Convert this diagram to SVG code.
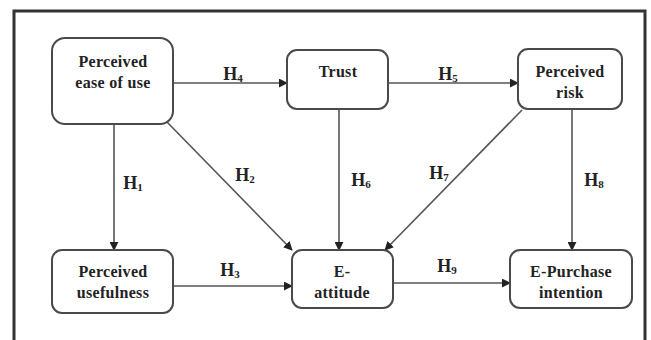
<svg xmlns="http://www.w3.org/2000/svg" width="651" height="340" viewBox="0 0 651 340">
<defs>
<style>
.node rect{fill:#fff;stroke:#4a4a4a;stroke-width:2}
.node text{font-family:"Liberation Serif","Times New Roman",serif;font-weight:bold;font-size:16px;letter-spacing:0.3px;fill:#222;text-anchor:middle}
.conn line{stroke:#555;stroke-width:1.6}
.lbl{font-family:"Liberation Serif","Times New Roman",serif;font-weight:bold;font-size:18px;fill:#222;text-anchor:middle}
.sub{font-size:11px}
</style>
<marker id="ah" viewBox="0 0 10 10" refX="9" refY="5" markerWidth="9" markerHeight="9" markerUnits="userSpaceOnUse" orient="auto">
<path d="M0,0 L10,5 L0,10 z" fill="#222"/>
</marker>
</defs>
<rect width="651" height="340" fill="#fff"/>
<path d="M14,340 V11 H645 V340" fill="none" stroke="#333" stroke-width="3"/>
<g class="conn">
<line x1="173" y1="83" x2="287" y2="83" marker-end="url(#ah)"/>
<line x1="388" y1="83" x2="518" y2="83" marker-end="url(#ah)"/>
<line x1="114" y1="124" x2="114" y2="250" marker-end="url(#ah)"/>
<line x1="167" y1="122" x2="292" y2="250" marker-end="url(#ah)"/>
<line x1="173" y1="286" x2="292" y2="286" marker-end="url(#ah)"/>
<line x1="339" y1="109" x2="339" y2="250" marker-end="url(#ah)"/>
<line x1="522" y1="110" x2="385" y2="250" marker-end="url(#ah)"/>
<line x1="572" y1="109" x2="572" y2="250" marker-end="url(#ah)"/>
<line x1="393" y1="283" x2="510" y2="283" marker-end="url(#ah)"/>
<text class="lbl" x="233" y="80">H<tspan class="sub" dy="2">4</tspan></text>
<text class="lbl" x="448" y="80">H<tspan class="sub" dy="2">5</tspan></text>
<text class="lbl" x="133" y="189">H<tspan class="sub" dy="2">1</tspan></text>
<text class="lbl" x="245" y="181">H<tspan class="sub" dy="2">2</tspan></text>
<text class="lbl" x="230" y="276">H<tspan class="sub" dy="2">3</tspan></text>
<text class="lbl" x="361" y="186">H<tspan class="sub" dy="2">6</tspan></text>
<text class="lbl" x="439" y="179">H<tspan class="sub" dy="2">7</tspan></text>
<text class="lbl" x="594" y="186">H<tspan class="sub" dy="2">8</tspan></text>
<text class="lbl" x="447" y="272">H<tspan class="sub" dy="2">9</tspan></text>
</g>
<g id="peou" class="node">
<rect x="52" y="38" width="121" height="86" rx="13"/>
<text x="113" y="67">Perceived</text>
<text x="113" y="88">ease of use</text>
</g>
<g id="trust" class="node">
<rect x="287" y="50" width="101" height="59" rx="10"/>
<text x="338" y="77">Trust</text>
</g>
<g id="risk" class="node">
<rect x="518" y="49" width="104" height="60" rx="10"/>
<text x="570" y="77">Perceived</text>
<text x="570" y="98">risk</text>
</g>
<g id="pu" class="node">
<rect x="52" y="250" width="121" height="63" rx="10"/>
<text x="113" y="277">Perceived</text>
<text x="113" y="298">usefulness</text>
</g>
<g id="att" class="node">
<rect x="292" y="250" width="101" height="58" rx="10"/>
<text x="342" y="277">E-</text>
<text x="342" y="298">attitude</text>
</g>
<g id="epi" class="node">
<rect x="510" y="250" width="122" height="58" rx="10"/>
<text x="571" y="277">E-Purchase</text>
<text x="571" y="298">intention</text>
</g>
</svg>
